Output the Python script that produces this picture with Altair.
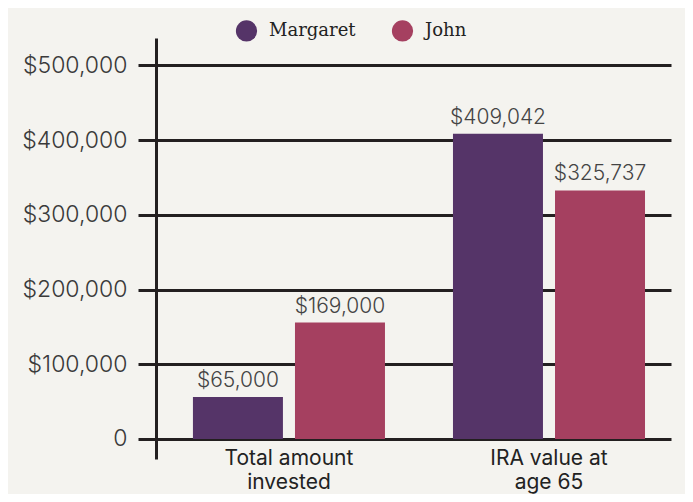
import altair as alt
import pandas as pd

categories = ["Total amount|invested", "Total amount|invested", "IRA value at|age 65", "IRA value at|age 65"]
people = ["Margaret", "John", "Margaret", "John"]
bar_values = [56300, 155800, 408500, 332600]
value_labels = ["$65,000", "$169,000", "$409,042", "$325,737"]
tick_values = [0, 100000, 200000, 300000, 400000, 500000]
series_order = ["Margaret", "John"]
series_colors = ["#553468", "#a54060"]
cat_order = ["Total amount|invested", "IRA value at|age 65"]

df = pd.DataFrame({"cat": categories, "person": people, "value": bar_values, "label": value_labels})

INK = "#231f20"

x_enc = alt.X("cat:N", sort=cat_order,
              scale=alt.Scale(paddingInner=0.2615, paddingOuter=0.121, align=0.587),
              axis=alt.Axis(title=None, domain=False, ticks=False, tickSize=0, labelAngle=0,
                            labelExpr="split(datum.label, '|')", labelFont="Inter",
                            labelFontSize=21, labelColor="#222222", labelPadding=-12,
                            labelBaseline="top", labelLineHeight=24))
xoff = alt.XOffset("person:N", sort=series_order,
                   scale=alt.Scale(paddingInner=0.118, paddingOuter=0))
y_scale = alt.Scale(domain=[-26800, 536700], nice=False, zero=False)

bars = alt.Chart(df).mark_bar().encode(
    x=x_enc,
    xOffset=xoff,
    y=alt.Y("value:Q", scale=y_scale,
            axis=alt.Axis(title=None, values=tick_values, grid=True, gridColor=INK, gridWidth=3,
                          gridOpacity=1, domain=True, domainColor=INK, domainWidth=3,
                          ticks=True, tickSize=18, tickWidth=3, tickColor=INK,
                          labelExpr="datum.value == 0 ? '0' : '$' + format(datum.value, ',')",
                          labelFont="Inter", labelFontSize=23, labelFontWeight=300,
                          labelColor="#3a3a3a", labelPadding=11)),
    y2=alt.datum(0),
    color=alt.Color("person:N", sort=series_order,
                    scale=alt.Scale(domain=series_order, range=series_colors),
                    legend=alt.Legend(title=None, orient="none", direction="horizontal",
                                      legendX=79, legendY=-19, symbolType="circle",
                                      symbolSize=450, symbolOpacity=1, labelFont="DejaVu Serif",
                                      labelFontSize=18, labelColor="#222222", labelOffset=11,
                                      columnPadding=35, padding=0)),
)

labels = alt.Chart(df).mark_text(dy=-10, baseline="alphabetic", font="Inter", fontSize=21,
                                 fontWeight=300, color="#444444").encode(
    x=alt.X("cat:N", sort=cat_order),
    xOffset=xoff,
    y=alt.Y("value:Q", scale=y_scale),
    text="label:N",
)

chart = (bars + labels).properties(
    width=515, height=421,
    autosize=alt.AutoSizeParams(type="none"),
    padding={"left": 148, "top": 30, "right": 14, "bottom": 35},
    background="#f4f3ef",
).configure_view(stroke=None)

chart.save("out.html", embed_options={"renderer": "svg", "actions": False})
